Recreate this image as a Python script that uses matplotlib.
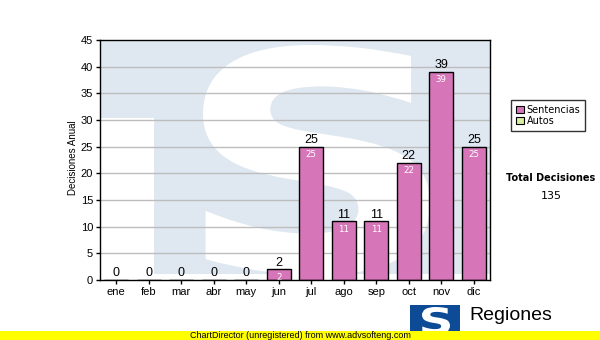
import matplotlib
matplotlib.use("Agg")
import matplotlib.pyplot as plt
from matplotlib.patches import Patch, Rectangle, PathPatch, Polygon
from matplotlib.textpath import TextPath
from matplotlib.font_manager import FontProperties
from matplotlib.transforms import Affine2D

# ---- data ----
months = ["ene", "feb", "mar", "abr", "may", "jun", "jul", "ago", "sep", "oct", "nov", "dic"]
sentencias = [0, 0, 0, 0, 0, 2, 25, 11, 11, 22, 39, 25]
autos = [0, 0, 0, 0, 0, 0, 0, 0, 0, 0, 0, 0]
series_names = ["Sentencias", "Autos"]
y_ticks = [0, 5, 10, 15, 20, 25, 30, 35, 40, 45]
total = sum(sentencias) + sum(autos)

W, H = 600, 340
fig = plt.figure(figsize=(6, 3.4), dpi=100)
fig.patch.set_facecolor("white")

def fx(px):
    return px / W

def fy(py):
    return 1 - py / H

ax_l, ax_r, ax_t, ax_b = 100, 490, 40, 280
ax = fig.add_axes([fx(ax_l), fy(ax_b), (ax_r - ax_l) / W, (ax_b - ax_t) / H])
ax.set_facecolor("white")

# ---- watermark (light blue logo with white S) ----
def axfx(px):
    return (px - ax_l) / (ax_r - ax_l)

def axfy(py):
    return (ax_b - py) / (ax_b - ax_t)

wm = "#dfe8f1"
poly = Polygon([(0, 1), (1, 1), (1, axfy(274)), (axfx(154), axfy(274)),
                (axfx(154), axfy(118)), (0, axfy(118))],
               closed=True, facecolor=wm, edgecolor="none",
               transform=ax.transAxes, zorder=0.1)
ax.add_patch(poly)

def s_path(x0, x1, y0, y1):
    tp = TextPath((0, 0), "S", size=1,
                  prop=FontProperties(family="DejaVu Sans", weight="bold"))
    ext = tp.get_extents()
    tr = (Affine2D().translate(-ext.x0, -ext.y0)
          .scale((x1 - x0) / ext.width, (y1 - y0) / ext.height)
          .translate(x0, y0))
    return tr.transform_path(tp)

sp = s_path(axfx(203), axfx(430), axfy(275), axfy(45))
ax.add_patch(PathPatch(sp, facecolor="white", edgecolor="none",
                       transform=ax.transAxes, zorder=0.2))

# ---- grid ----
ax.set_ylim(0, 45)
ax.set_yticks(y_ticks)
ax.set_yticklabels([str(v) for v in y_ticks])
for v in y_ticks[1:-1]:
    ax.axhline(v, color="#bdbdbd", linewidth=1.0, zorder=0.5)

# ---- bars ----
x = list(range(len(months)))
bar_color = "#d676b9"
bars = ax.bar(x, sentencias, width=0.74, color=bar_color, edgecolor="black",
              linewidth=1.0, zorder=2, label=series_names[0])
ax.set_xlim(-0.5, len(months) - 0.5)
ax.set_xticks(x)
ax.set_xticklabels(months)

for xi, v in zip(x, sentencias):
    ax.annotate(str(v), (xi, v), xytext=(0, 0.5), textcoords="offset points",
                ha="center", va="bottom", fontsize=9, color="black",
                family="Liberation Sans", zorder=3)
    if v > 0:
        ax.annotate(str(v), (xi, v), xytext=(0, -2.5), textcoords="offset points",
                    ha="center", va="top", fontsize=6.2, color="white",
                    family="DejaVu Sans", zorder=3)

for sp_ in ax.spines.values():
    sp_.set_color("black")
    sp_.set_linewidth(1.0)
    sp_.set_zorder(4)

ax.tick_params(axis="both", direction="out", length=3, width=1, color="black",
               labelsize=8, pad=2)
for lab in ax.get_xticklabels() + ax.get_yticklabels():
    lab.set_family("Liberation Sans")

fig.text(fx(73), fy(158), "Decisiones Anual", rotation=90, ha="center",
         va="center", fontsize=7, family="Liberation Sans")

# ---- legend ----
handles = [Patch(facecolor=bar_color, edgecolor="black", linewidth=0.8),
           Patch(facecolor="#d9ee9e", edgecolor="black", linewidth=0.8)]
leg = fig.legend(handles, series_names, loc="upper left",
                 bbox_to_anchor=(fx(511), fy(100)), frameon=True, fancybox=False,
                 prop={"family": "DejaVu Sans", "size": 7},
                 handlelength=0.8, handleheight=0.8, handletextpad=0.3,
                 labelspacing=0.1, borderpad=0.5, borderaxespad=0)
leg.get_frame().set_edgecolor("black")
leg.get_frame().set_linewidth(1.0)

fig.text(fx(551), fy(178), "Total Decisiones", ha="center", va="center",
         fontsize=7, fontweight="bold", family="DejaVu Sans")
fig.text(fx(551), fy(196), str(total), ha="center", va="center",
         fontsize=8, family="DejaVu Sans")

# ---- bottom logo ----
fig.patches.append(Rectangle((fx(410), fy(332)), (460 - 410) / W, (332 - 305) / H,
                             transform=fig.transFigure, facecolor="#0d4b96",
                             edgecolor="none", zorder=1))
lp = s_path(fx(422), fx(450), fy(334), fy(307))
fig.patches.append(PathPatch(lp, facecolor="white", edgecolor="none",
                             transform=fig.transFigure, zorder=2))
fig.text(fx(469), fy(315), "Regiones", ha="left", va="center", fontsize=14,
         family="Liberation Sans", zorder=3)

# ---- yellow band ----
fig.patches.append(Rectangle((0, 0), 1, (340 - 331) / H, transform=fig.transFigure,
                             facecolor="#ffff00", edgecolor="none", zorder=5))
fig.text(fx(190), fy(335.5), "ChartDirector (unregistered) from www.advsofteng.com",
         ha="left", va="center", fontsize=6.5, family="Liberation Sans", zorder=6)

fig.savefig("out.png", dpi=100, facecolor="white")
